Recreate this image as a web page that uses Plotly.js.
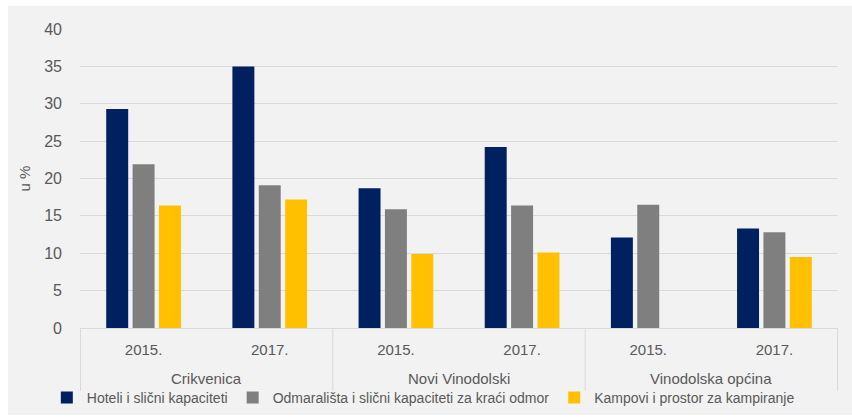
<!DOCTYPE html>
<html>
<head>
<meta charset="utf-8">
<script src="https://cdn.plot.ly/plotly-3.0.1.min.js"></script>
<style>
html,body{margin:0;padding:0;background:#ffffff;width:852px;height:418px;overflow:hidden;}
#chart{position:absolute;left:8px;top:6px;width:844px;height:409px;}
</style>
</head>
<body>
<div id="chart"></div>
<script>
const groups = ["Crikvenica","Crikvenica","Novi Vinodolski","Novi Vinodolski","Vinodolska općina","Vinodolska općina"];
const years = ["2015.","2017.","2015.","2017.","2015.","2017."];
const seriesNames = ["Hoteli i slični kapaciteti","Odmarališta i slični kapaciteti za kraći odmor","Kampovi i prostor za kampiranje"];
const hoteli = [29.3, 35.0, 18.7, 24.2, 12.1, 13.3];
const odmaralista = [21.9, 19.1, 15.9, 16.4, 16.5, 12.8];
const kampovi = [16.4, 17.2, 9.9, 10.1, null, 9.5];
const colors = ["#002060","#7f7f7f","#ffc000"];
const yTicks = [0,5,10,15,20,25,30,35,40];

const catKeys = groups.map((g,i)=>g+" | "+years[i]);
const values = [hoteli, odmaralista, kampovi];
const traces = values.map((v,i)=>({
  type:"bar",
  name: seriesNames[i],
  x:catKeys,
  y:v,
  marker:{color:colors[i], line:{width:0}},
  hoverinfo:"skip"
}));

// group labels and dividers derived from the category list
const uniqueGroups = [...new Set(groups)];
const annotations = uniqueGroups.map(g=>{
  const idx = groups.map((x,i)=>x===g?i:-1).filter(i=>i>=0);
  const mid = idx.reduce((a,b)=>a+b,0)/idx.length;
  return {text:g, x:mid, xref:"x", y:-0.168, yref:"paper", yanchor:"middle",
          showarrow:false, font:{size:15, color:"#595959"}};
});
const bounds = [-0.5];
uniqueGroups.forEach(g=>{ bounds.push(groups.lastIndexOf(g)+0.5); });
const shapes = bounds.map(b=>({type:"line", xref:"x", yref:"paper", x0:b, x1:b, y0:0, y1:-0.21,
  line:{color:"#d9d9d9", width:1}}));

const txt = "#595959";
const layout = {
  width:844, height:409,
  paper_bgcolor:"#f2f2f2",
  plot_bgcolor:"#f2f2f2",
  margin:{l:72, r:14, t:23, b:87},
  barmode:"group",
  bargap:0.373,
  bargroupgap:0.167,
  font:{family:"Liberation Sans, Arial, sans-serif", color:txt, size:15},
  showlegend:true,
  legend:{orientation:"h", xref:"container", x:0.046, xanchor:"left", yref:"container", y:0.042, yanchor:"middle",
          font:{size:14, color:txt}, bgcolor:"rgba(0,0,0,0)", traceorder:"normal"},
  annotations:annotations,
  shapes:shapes,
  xaxis:{
    type:"category",
    tickvals:catKeys, ticktext:years,
    showline:true, linecolor:"#d9d9d9", linewidth:1,
    tickfont:{size:15, color:txt}, ticklabelstandoff:8,
    ticks:"", showgrid:false, zeroline:false, automargin:false
  },
  yaxis:{
    range:[0,40], tickvals:yTicks, ticktext:yTicks.map(String),
    showgrid:true, gridcolor:"#d9d9d9", gridwidth:1,
    zeroline:false, showline:false, automargin:false,
    tickfont:{size:16, color:txt}, ticklabelstandoff:17,
    title:{text:"u %", font:{size:15, color:txt}, standoff:9}
  }
};
Plotly.newPlot("chart", traces, layout, {staticPlot:true, displayModeBar:false});
</script>
</body>
</html>
